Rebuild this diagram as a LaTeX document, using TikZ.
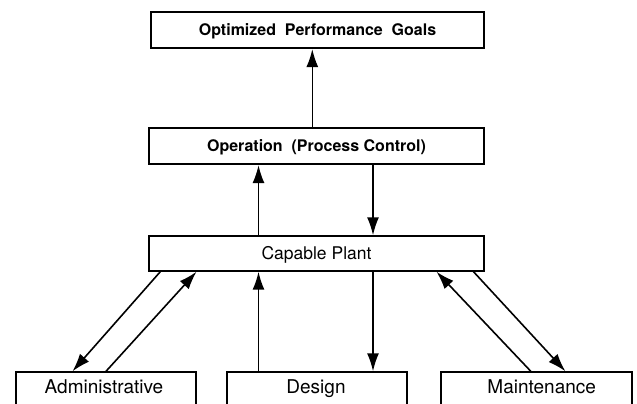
\documentclass[tikz,border=0pt]{standalone}
\usepackage{fontspec}
\setmainfont{TeX Gyre Heros}
\usetikzlibrary{arrows.meta}
\begin{document}
\begin{tikzpicture}[x=1pt,y=-1pt,
  box/.style={draw, line width=1.4pt, inner sep=0pt},
  heavybox/.style={box, line width=2.2pt},
  toplbl/.style={font=\fontsize{16}{18}\selectfont\bfseries, text height=11.5pt, text depth=0pt},
  midlbl/.style={font=\fontsize{17.5}{20}\selectfont, text height=12.6pt, text depth=0pt},
  lbl/.style={inner sep=0pt, font=\fontsize{19}{21}\selectfont, text height=13.7pt, text depth=0pt},
  arr/.style={line width=1.6pt, -{Latex[length=18pt,width=12pt]}}]
\useasboundingbox (0,0) rectangle (637,404);
\clip (0,0) rectangle (637,404);
% boxes
\node[heavybox, toplbl, minimum width=333pt, minimum height=36pt] (goal) at (317.5,30) {Optimized\ \ Performance\ \ Goals};
\node[heavybox, toplbl, minimum width=335pt, minimum height=36pt] (op) at (316.5,146) {Operation\ \ (Process\ Control)};
\node[box, midlbl, minimum width=335pt, minimum height=35pt] (cp) at (316.5,253.5) {Capable Plant};
\node[box, minimum width=180pt, minimum height=40pt] (admin) at (106,392) {};
\node[box, minimum width=180pt, minimum height=40pt] (design) at (317,392) {};
\node[box, minimum width=191pt, minimum height=40pt] (maint) at (536.5,392) {};
\node[lbl] (admintxt) at (104,387) {Administrative};
\node[lbl] (designtxt) at (316,387) {Design};
\node[lbl] (mainttxt) at (541.7,387) {Maintenance};
% x positions for connectors
\coordinate (xa) at (312.3,0);
\coordinate (xb) at (258.5,0);
\coordinate (xc) at (373,0);
\coordinate (a1) at (160.3,0);
\coordinate (a2) at (72.5,0);
\coordinate (a3) at (106,0);
\coordinate (a4) at (196.5,0);
\coordinate (m1) at (530.8,0);
\coordinate (m2) at (436.5,0);
\coordinate (m3) at (473.5,0);
\coordinate (m4) at (565.4,0);
% vertical connectors
\draw[arr] (op.north -| xa) -- (goal.south -| xa);
\draw[arr] (cp.north -| xb) -- (op.south -| xb);
\draw[arr] (op.south -| xc) -- (cp.north -| xc);
\draw[arr] (design.north -| xb) -- (cp.south -| xb);
\draw[arr] (cp.south -| xc) -- (design.north -| xc);
% diagonal connectors
\draw[arr] (cp.south -| a1) -- (admin.north -| a2);
\draw[arr] (admin.north -| a3) -- (cp.south -| a4);
\draw[arr] (maint.north -| m1) -- (cp.south -| m2);
\draw[arr] (cp.south -| m3) -- (maint.north -| m4);
\end{tikzpicture}
\end{document}
